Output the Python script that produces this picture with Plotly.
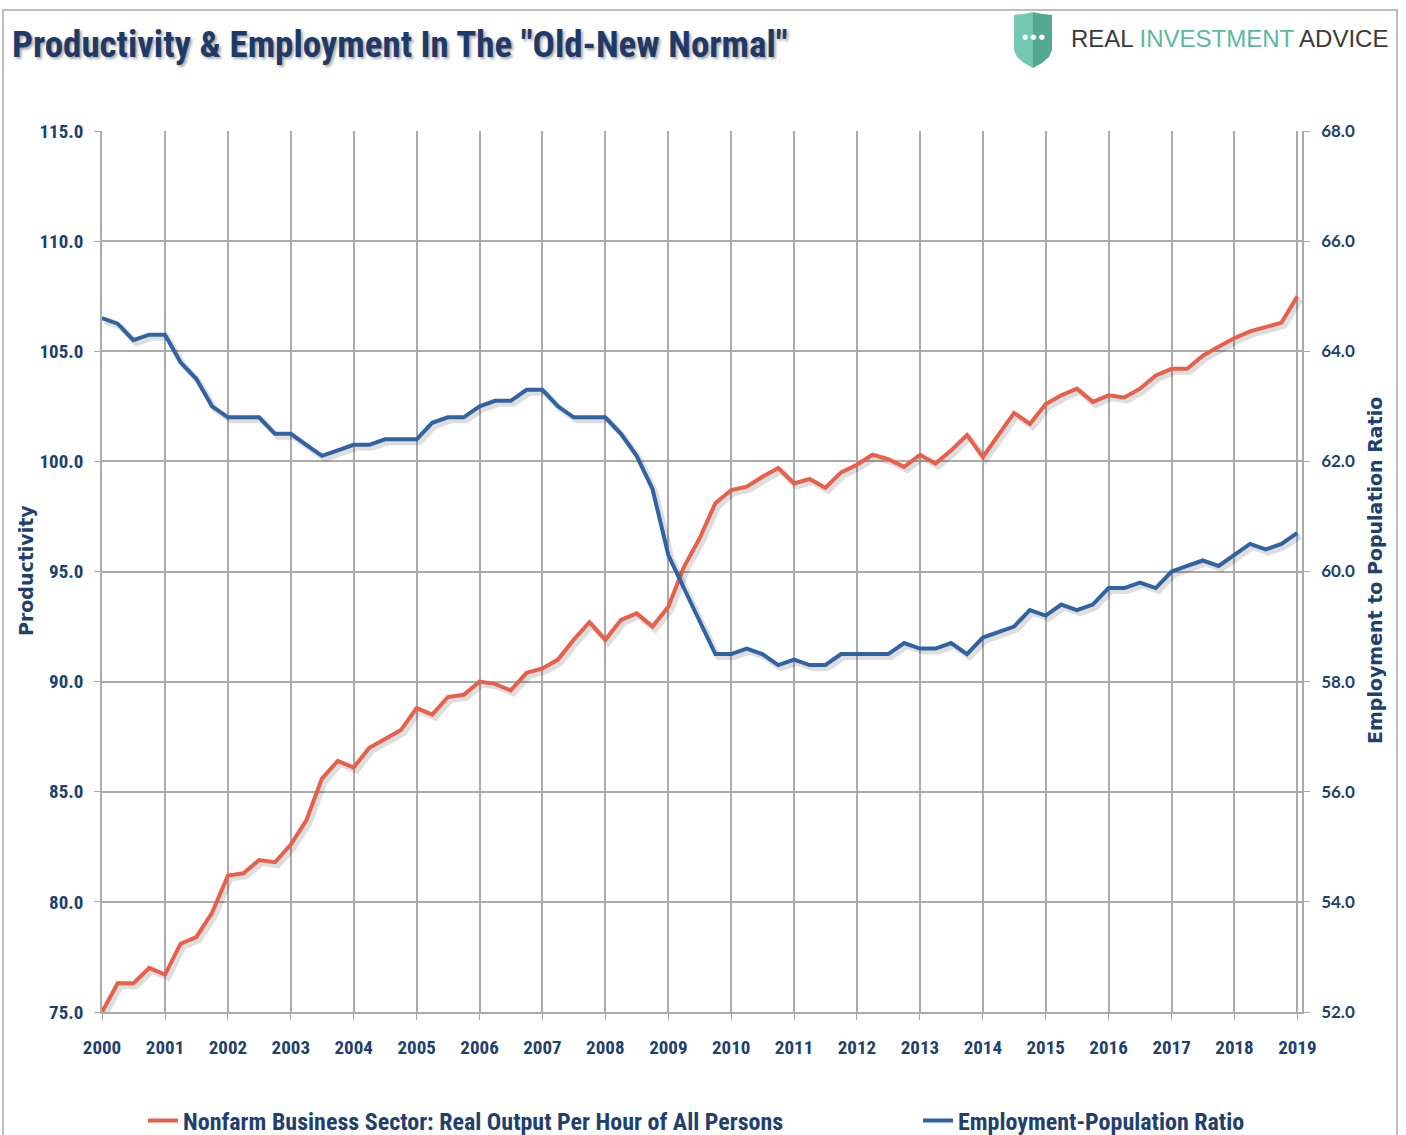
import plotly.graph_objects as go
import pandas as pd

# ---------------- data (quarterly, 2000Q1 .. 2019Q1) ----------------
start_date = "2000-01-01"
n_quarters = 77
productivity = [
    75.0, 76.3, 76.3, 77.0, 76.7, 78.1, 78.4, 79.5, 81.2, 81.3,
    81.9, 81.8, 82.6, 83.7, 85.6, 86.4, 86.1, 87.0, 87.4, 87.8,
    88.8, 88.5, 89.3, 89.4, 90.0, 89.9, 89.6, 90.4, 90.6, 91.0,
    91.9, 92.7, 91.9, 92.8, 93.1, 92.5, 93.4, 95.2, 96.5, 98.1,
    98.7, 98.85, 99.3, 99.7, 99.0, 99.2, 98.8, 99.5, 99.85, 100.3,
    100.1, 99.75, 100.3, 99.9, 100.5, 101.2, 100.2, 101.2, 102.2, 101.7,
    102.6, 103.0, 103.3, 102.7, 103.0, 102.9, 103.3, 103.9, 104.2, 104.2,
    104.8, 105.2, 105.6, 105.9, 106.1, 106.3, 107.5,
]
emp_pop = [
    64.6, 64.5, 64.2, 64.3, 64.3, 63.8, 63.5, 63.0, 62.8, 62.8,
    62.8, 62.5, 62.5, 62.3, 62.1, 62.2, 62.3, 62.3, 62.4, 62.4,
    62.4, 62.7, 62.8, 62.8, 63.0, 63.1, 63.1, 63.3, 63.3, 63.0,
    62.8, 62.8, 62.8, 62.5, 62.1, 61.5, 60.3, 59.7, 59.1, 58.5,
    58.5, 58.6, 58.5, 58.3, 58.4, 58.3, 58.3, 58.5, 58.5, 58.5,
    58.5, 58.7, 58.6, 58.6, 58.7, 58.5, 58.8, 58.9, 59.0, 59.3,
    59.2, 59.4, 59.3, 59.4, 59.7, 59.7, 59.8, 59.7, 60.0, 60.1,
    60.2, 60.1, 60.3, 60.5, 60.4, 60.5, 60.7,
]
name_prod = "Nonfarm Business Sector: Real Output Per Hour of All Persons"
name_emp = "Employment-Population Ratio"
title_text = 'Productivity & Employment In The "Old-New Normal"'
left_title = "Productivity"
right_title = "Employment to Population Ratio"
left_range = [75, 115]
right_range = [52, 68]
x_end = "2019-01-28"

dates = pd.date_range(start_date, periods=n_quarters, freq="QS")

# ---------------- layout helpers (pixel -> paper) ----------------
W, H = 1406, 1135
L, R, T, B = 102, 1302, 131, 1012


def xp(px):
    return (px - L) / (R - L)


def yp(py):
    return (B - py) / (B - T)


RED = "#E8604C"
BLUE = "#3163A3"
NAVY = "#22406C"
GRID = "#ABABAB"
NARROW = "Roboto Condensed, DejaVu Sans Condensed, sans-serif"

# shadow offsets (3 px down/right) converted to data units
sh_days = pd.Timedelta(days=17)
sh_left = 3 * (left_range[1] - left_range[0]) / (B - T)
sh_right = 3 * (right_range[1] - right_range[0]) / (B - T)

fig = go.Figure()
fig.add_trace(go.Scatter(
    x=dates + sh_days, y=[v - sh_left for v in productivity], mode="lines",
    line=dict(color="rgba(0,0,0,0.13)", width=6), showlegend=False, hoverinfo="skip"))
fig.add_trace(go.Scatter(
    x=dates + sh_days, y=[v - sh_right for v in emp_pop], mode="lines", yaxis="y2",
    line=dict(color="rgba(0,0,0,0.13)", width=6), showlegend=False, hoverinfo="skip"))
fig.add_trace(go.Scatter(
    x=dates, y=productivity, mode="lines", name=name_prod, legend="legend",
    line=dict(color=RED, width=4)))
fig.add_trace(go.Scatter(
    x=dates, y=emp_pop, mode="lines", name=name_emp, yaxis="y2", legend="legend2",
    line=dict(color=BLUE, width=4)))

legend_font = dict(family=NARROW, size=24, color=NAVY, weight="bold")
fig.update_layout(
    width=W, height=H,
    margin=dict(l=L, r=W - R, t=T, b=H - B, autoexpand=False),
    paper_bgcolor="white", plot_bgcolor="white",
    xaxis=dict(
        type="date", range=[start_date, x_end],
        tick0=start_date, dtick="M12", tickformat="%Y",
        showgrid=True, gridcolor=GRID, gridwidth=1.5,
        showline=True, linecolor=GRID, linewidth=1.5,
        ticks="outside", ticklen=6, tickcolor=GRID,
        ticklabelstandoff=11,
        tickfont=dict(family=NARROW, size=19, color=NAVY, weight="bold"),
    ),
    yaxis=dict(
        range=left_range, dtick=5, tickformat=".1f",
        showgrid=True, gridcolor=GRID, gridwidth=1.5,
        showline=True, linecolor=GRID, linewidth=1.5, zeroline=False,
        ticks="outside", ticklen=6, tickcolor=GRID,
        ticklabelstandoff=7,
        tickfont=dict(family=NARROW, size=19, color=NAVY, weight="bold"),
    ),
    yaxis2=dict(
        range=right_range, dtick=2, tickformat=".1f", overlaying="y", side="right",
        showgrid=False, showline=True, linecolor=GRID, linewidth=1.5, zeroline=False,
        ticks="outside", ticklen=6, tickcolor=GRID,
        ticklabelstandoff=8,
        tickfont=dict(family="Lato, sans-serif", size=17, color=NAVY, weight="bold"),
    ),
    legend=dict(
        orientation="h", x=xp(143), xanchor="left", y=yp(1121), yanchor="middle",
        itemwidth=30, font=legend_font, bgcolor="rgba(0,0,0,0)",
    ),
    legend2=dict(
        orientation="h", x=xp(918), xanchor="left", y=yp(1121), yanchor="middle",
        itemwidth=30, font=legend_font, bgcolor="rgba(0,0,0,0)",
    ),
    showlegend=True,
)

# axis titles
axis_title_font = dict(family="DejaVu Sans, sans-serif", size=19, color=NAVY, weight="bold")
fig.add_annotation(xref="paper", yref="paper", x=xp(26), y=yp(571), xanchor="center", yanchor="middle",
                   textangle=-90, showarrow=False, text=left_title, font=axis_title_font)
fig.add_annotation(xref="paper", yref="paper", x=xp(1375), y=yp(571), xanchor="center", yanchor="middle",
                   textangle=-90, showarrow=False, text=right_title, font=axis_title_font)

# outer frame
fig.add_shape(type="rect", xref="paper", yref="paper",
              x0=xp(3), x1=xp(1397), y0=yp(1150), y1=yp(10),
              line=dict(color="#BDBDBD", width=2), fillcolor="rgba(0,0,0,0)", layer="below")

# title
fig.add_annotation(xref="paper", yref="paper", x=xp(10), y=yp(44), xanchor="left", yanchor="middle",
                   text=title_text, showarrow=False,
                   font=dict(family=NARROW, size=37, color="#1F3A66", weight="bold",
                             shadow="2px 2px 3px rgba(0,0,0,0.35)"))


# logo shield
def path(points):
    return "M " + " L ".join(f"{xp(a):.5f},{yp(b):.5f}" for a, b in points) + " Z"


left_half = [(1014, 15), (1024, 14), (1033, 12), (1033, 68), (1024, 63), (1017, 57), (1014, 50)]
right_half = [(1033, 12), (1042, 14), (1052, 15), (1052, 50), (1049, 57), (1042, 63), (1033, 68)]
fig.add_shape(type="path", xref="paper", yref="paper", path=path(left_half),
              fillcolor="#74C8AF", line=dict(width=0))
fig.add_shape(type="path", xref="paper", yref="paper", path=path(right_half),
              fillcolor="#53A98F", line=dict(width=0))
fig.add_annotation(xref="paper", yref="paper", x=xp(1033), y=yp(37), xanchor="center", yanchor="middle",
                   showarrow=False, text="● ● ●",
                   font=dict(family="DejaVu Sans", size=7, color="white"))
fig.add_annotation(xref="paper", yref="paper", x=xp(1069), y=yp(39), xanchor="left", yanchor="middle",
                   showarrow=False,
                   text='REAL <span style="color:#5DB89F">INVESTMENT</span> ADVICE',
                   font=dict(family="Liberation Sans, Arial, sans-serif", size=24, color="#3A3A3A"))

fig.write_html("out.html", config={"displayModeBar": False},
               post_script="document.body.style.margin='0px';")
